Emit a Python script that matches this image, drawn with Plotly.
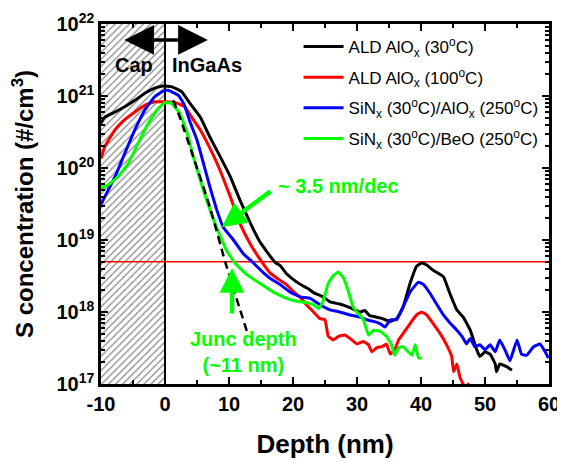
import numpy as np
import plotly.graph_objects as go

# ---------------- data ----------------
black_depth = [-10.0, -9.4, -7.8, -6.3, -4.7, -3.1, -1.6, -0.3, 1.0, 2.6,
               3.9, 5.5, 7.0, 8.6, 10.2, 11.7, 13.3, 14.8, 15.9, 17.2,
               18.0, 19.0, 20.6, 21.6, 22.4, 23.2, 24.7, 25.8, 27.3, 28.9,
               30.5, 31.2, 32.0, 33.6, 35.2, 36.2, 37.2, 38.3, 39.3, 40.1,
               40.9, 41.9, 43.5, 44.5, 45.6, 46.6, 47.7, 48.7, 49.2, 50.0,
               50.8, 51.6, 51.8, 52.3, 53.4, 54.2]
black_conc = [4.2e20, 5.1e20, 6.0e20, 7.1e20, 8.7e20, 1.1e21, 1.29e21, 1.38e21, 1.35e21, 1.15e21,
              7.9e20, 5.1e20, 2.7e20, 1.45e20, 7.6e19, 3.6e19, 1.74e19, 9.5e18, 6.9e18, 4.9e18,
              4.4e18, 3.4e18, 2.6e18, 2.3e18, 2.1e18, 1.86e18, 1.62e18, 1.38e18, 1.29e18, 1.15e18,
              1.0e18, 1.05e18, 8.9e17, 8.3e17, 7.4e17, 8.1e17, 1.17e18, 2.5e18, 4.3e18, 4.8e18,
              4.5e18, 3.8e18, 3.1e18, 1.82e18, 1.07e18, 8.5e17, 5.6e17, 3.0e17, 2.4e17, 2.8e17,
              2.6e17, 1.9e17, 1.48e17, 1.9e17, 1.74e17, 1.55e17]

red_depth = [-10.0, -9.4, -7.8, -6.3, -4.7, -3.1, -1.6, 0.0, 1.6, 3.1,
             3.9, 5.5, 7.0, 8.6, 10.2, 11.7, 13.3, 15.1, 16.4, 18.0,
             19.0, 20.1, 21.1, 22.1, 23.2, 24.2, 25.0, 25.5, 26.3, 27.1,
             28.1, 28.9, 30.0, 31.0, 31.8, 32.3, 33.1, 33.9, 34.6, 35.2,
             35.9, 36.5, 37.2, 38.3, 39.3, 40.1, 40.9, 41.9, 43.0, 44.0,
             44.8, 45.1, 45.6, 46.1, 46.9, 47.4, 47.7]
red_conc = [1.35e20, 2.0e20, 3.4e20, 4.7e20, 6.0e20, 7.5e20, 8.3e20, 8.3e20, 8.1e20, 7.1e20,
            5.5e20, 3.4e20, 1.9e20, 9.3e19, 4.0e19, 1.7e19, 8.9e18, 5.0e18, 3.5e18, 2.75e18,
            2.4e18, 1.9e18, 1.62e18, 1.26e18, 1.0e18, 8.1e17, 7.8e17, 4.6e17, 4.1e17, 4.6e17,
            4.8e17, 4.3e17, 3.6e17, 3.9e17, 3.5e17, 2.8e17, 3.2e17, 3.3e17, 3.6e17, 2.6e17,
            3.0e17, 4.1e17, 5.0e17, 6.9e17, 9.1e17, 1.0e18, 9.1e17, 6.9e17, 5.0e17, 3.5e17,
            2.4e17, 1.48e17, 1.9e17, 1.23e17, 8.9e16, 1.0e17, 7.9e16]

blue_depth = [-10.0, -9.4, -7.8, -6.3, -4.7, -3.1, -1.6, -0.3, 0.5, 2.1,
              3.0, 3.9, 5.0, 6.0, 7.0, 8.1, 9.1, 10.7, 12.2, 13.6,
              15.4, 16.4, 18.0, 19.5, 21.1, 22.7, 24.2, 25.8, 27.3, 28.9,
              30.5, 31.5, 32.6, 33.6, 34.4, 35.2, 36.2, 37.2, 38.3, 39.6,
              40.4, 41.4, 42.5, 43.5, 44.5, 45.6, 46.4, 47.1, 47.7, 48.4,
              49.2, 50.0, 50.8, 51.6, 52.3, 53.1, 53.9, 55.0, 55.7, 56.5,
              57.6, 58.6, 59.4, 59.9]
blue_conc = [3.1e19, 4.0e19, 7.6e19, 1.58e20, 3.4e20, 6.5e20, 9.8e20, 1.17e21, 1.2e21, 1.02e21,
             7.6e20, 4.4e20, 2.45e20, 1.17e20, 5.5e19, 2.6e19, 1.5e19, 1.0e19, 6.5e18, 5.0e18,
             3.5e18, 2.95e18, 2.4e18, 1.9e18, 1.62e18, 1.55e18, 1.26e18, 1.07e18, 1.0e18, 9.1e17,
             8.5e17, 7.8e17, 7.4e17, 6.9e17, 6.2e17, 7.8e17, 7.8e17, 1.17e18, 1.9e18, 2.6e18,
             2.4e18, 1.82e18, 1.26e18, 9.1e17, 7.1e17, 5.6e17, 4.6e17, 3.6e17, 4.3e17, 3.3e17,
             3.5e17, 3.0e17, 3.5e17, 2.8e17, 4.1e17, 3.0e17, 2.1e17, 4.1e17, 2.6e17, 2.5e17,
             3.3e17, 3.6e17, 2.8e17, 2.3e17]

green_depth = [-10.0, -8.9, -7.3, -5.7, -4.2, -2.6, -1.0, 0.0, 1.0, 2.3,
               3.6, 4.4, 6.0, 7.8, 9.6, 10.9, 12.8, 14.8, 16.9, 19.0,
               20.6, 22.1, 23.2, 24.0, 24.7, 25.5, 26.3, 27.1, 27.9, 28.6,
               29.4, 30.2, 31.0, 31.8, 32.6, 33.6, 34.6, 35.4, 35.9, 36.5,
               37.2, 38.0, 38.6, 39.1, 39.6, 40.1]
green_conc = [5.2e19, 5.8e19, 7.6e19, 1.17e20, 2.2e20, 4.2e20, 6.8e20, 8.1e20, 7.9e20, 5.8e20,
              2.8e20, 1.45e20, 4.9e19, 1.7e19, 7.2e18, 4.8e18, 3.3e18, 2.5e18, 1.9e18, 1.55e18,
              1.41e18, 1.35e18, 1.26e18, 1.12e18, 1.41e18, 2.5e18, 3.2e18, 3.6e18, 2.95e18, 2.0e18,
              1.17e18, 9.5e17, 7.8e17, 4.8e17, 5.6e17, 5.4e17, 4.6e17, 3.5e17, 2.5e17, 3.2e17,
              3.3e17, 2.8e17, 2.5e17, 3.5e17, 2.3e17, 2.3e17]

# dashed fit line (~3.5 nm/dec)
fit_depth = [1.3, 2.3, 4.4, 7.0, 9.4, 12.8]
fit_conc = [8.7e20, 5.1e20, 1.45e20, 2.9e19, 5.0e18, 5.4e17]

series_names = ["ALD AlO<sub>x</sub> (30<sup>o</sup>C)",
                "ALD AlO<sub>x</sub> (100<sup>o</sup>C)",
                "SiN<sub>x</sub> (30<sup>o</sup>C)/AlO<sub>x</sub> (250<sup>o</sup>C)",
                "SiN<sub>x</sub> (30<sup>o</sup>C)/BeO (250<sup>o</sup>C)"]
series_colors = ["#000000", "#FF0000", "#0000FF", "#00FF00"]

junction_level = 5e18          # red horizontal reference line
cap_region = [-10, 0]          # hatched cap layer
x_range = [-10, 60]
y_decades = [17, 18, 19, 20, 21, 22]
x_ticks = [-10, 0, 10, 20, 30, 40, 50, 60]

FONT = "Liberation Sans, Arial, sans-serif"
GREEN = "#00FF00"

fig = go.Figure()

# hatched cap region
fig.add_trace(go.Scatter(
    x=[cap_region[0], cap_region[1], cap_region[1], cap_region[0], cap_region[0]],
    y=[10.0 ** y_decades[0], 10.0 ** y_decades[0], 10.0 ** y_decades[-1],
       10.0 ** y_decades[-1], 10.0 ** y_decades[0]],
    mode="lines", fill="toself", line=dict(width=0),
    fillpattern=dict(shape="/", size=5, solidity=0.22, fgcolor="#000000", bgcolor="white"),
    showlegend=False, hoverinfo="skip"))

# boundary line at depth 0
fig.add_trace(go.Scatter(
    x=[cap_region[1], cap_region[1]], y=[10.0 ** y_decades[0], 10.0 ** y_decades[-1]],
    mode="lines", line=dict(color="black", width=2), showlegend=False, hoverinfo="skip"))

# junction-level line
fig.add_trace(go.Scatter(
    x=x_range, y=[junction_level, junction_level], mode="lines",
    line=dict(color="#FF0000", width=1.5), showlegend=False, hoverinfo="skip"))

all_depth = [black_depth, red_depth, blue_depth, green_depth]
all_conc = [black_conc, red_conc, blue_conc, green_conc]
for i, (d, c) in enumerate(zip(all_depth, all_conc)):
    fig.add_trace(go.Scatter(
        x=d, y=c, mode="lines", name=series_names[i], legendgroup=f"g{i}",
        line=dict(color=series_colors[i], width=3, shape="spline", smoothing=0.3)))

fig.add_trace(go.Scatter(
    x=fit_depth, y=fit_conc, mode="lines", showlegend=False,
    line=dict(color="black", width=2.5, dash="8px,5px", shape="spline", smoothing=0.6)))

L = np.log10
annotations = [
    dict(x=-4.9, y=L(2.7e21), text="<b>Cap</b>", showarrow=False,
         font=dict(size=20, color="black")),
    dict(x=6.6, y=L(2.7e21), text="<b>InGaAs</b>", showarrow=False,
         font=dict(size=20, color="black")),
    dict(x=6.7, y=L(6e21), ax=-6.6, ay=L(6e21), axref="x", ayref="y", text="",
         showarrow=True, arrowside="end+start", arrowhead=2, arrowsize=1.7,
         arrowwidth=3.5, arrowcolor="black", standoff=0, startstandoff=0),
    dict(x=8.86, y=L(1.5e19), ax=16.7, ay=L(4.9e19), axref="x", ayref="y", text="",
         showarrow=True, arrowhead=2, arrowsize=1.1, arrowwidth=4.5, arrowcolor=GREEN,
         standoff=0),
    dict(x=17.3, y=L(5.6e19), text="<b>~ 3.5 nm/dec</b>", showarrow=False,
         xanchor="left", font=dict(size=20, color=GREEN)),
    dict(x=10.47, y=L(4.1e18), ax=10.47, ay=L(9.1e17), axref="x", ayref="y", text="",
         showarrow=True, arrowhead=2, arrowsize=1.1, arrowwidth=4.5, arrowcolor=GREEN,
         standoff=0),
    dict(x=12.3, y=L(2.8e17), text="<b>Junc depth<br>(~11 nm)</b>", showarrow=False,
         font=dict(size=20, color=GREEN)),
]

axis_common = dict(showline=True, linecolor="black", linewidth=2.5, mirror="allticks",
                   ticks="inside", ticklen=7, tickwidth=2, tickcolor="black",
                   showgrid=False, zeroline=False, automargin=False,
                   tickfont=dict(family=FONT, size=20, color="black", weight="bold"))

# the page body adds an 8 px offset, so the figure is 8 px smaller on each axis
fig.update_layout(
    width=557, height=454,
    margin=dict(l=93, r=16, t=16, b=78),
    paper_bgcolor="white", plot_bgcolor="white",
    font=dict(family=FONT, color="black"),
    annotations=annotations,
    legend=dict(x=0.441, y=0.986, xanchor="left", yanchor="top",
                bgcolor="rgba(0,0,0,0)", borderwidth=0,
                font=dict(family=FONT, size=17, color="black"),
                tracegroupgap=5.5, itemwidth=40),
    xaxis=dict(range=x_range, tickvals=x_ticks, ticktext=[str(t) for t in x_ticks],
               minor=dict(dtick=5, ticks="inside", ticklen=4, tickwidth=2, tickcolor="black"),
               title=dict(text="<b>Depth (nm)</b>", font=dict(size=26), standoff=22),
               **axis_common),
    yaxis=dict(type="log", range=[y_decades[0], y_decades[-1]],
               tickvals=[10.0 ** e for e in y_decades],
               ticktext=[f"10<sup>{e}</sup>" for e in y_decades],
               minor=dict(dtick="D1", ticks="inside", ticklen=4, tickwidth=1.5, tickcolor="black"),
               title=dict(text="<b>S concentration (#/cm<sup>3</sup>)</b>", font=dict(size=24),
                          standoff=17),
               **axis_common),
)

fig.write_html("out.html")
